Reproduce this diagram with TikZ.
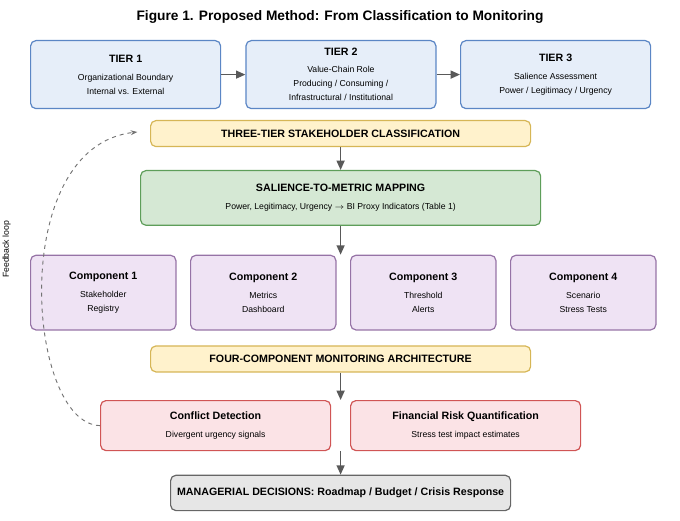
\documentclass[tikz,border=0pt]{standalone}
\usepackage{fontspec}
\setmainfont{Liberation Sans}
\usetikzlibrary{arrows.meta}
\definecolor{bF}{HTML}{E6EEF9}\definecolor{bS}{HTML}{5B86C5}
\definecolor{yF}{HTML}{FFF2CC}\definecolor{yS}{HTML}{D6B656}
\definecolor{gF}{HTML}{D5E8D4}\definecolor{gS}{HTML}{5E9E5A}
\definecolor{pF}{HTML}{EFE3F4}\definecolor{pS}{HTML}{9673A6}
\definecolor{rF}{HTML}{FBE3E6}\definecolor{rS}{HTML}{D05555}
\definecolor{kF}{HTML}{E6E6E6}\definecolor{kS}{HTML}{666666}
\newcommand\Tt[1]{{\fontsize{8}{10}\selectfont\bfseries #1}}
\begin{document}
\begin{tikzpicture}[x=1pt,y=-1pt,
 box/.style={draw, rounded corners=4pt, line width=0.9pt, align=center, inner sep=0pt, anchor=north west, font=\fontsize{6.5}{10.5}\selectfont},
 arr/.style={-{Triangle[length=7pt,width=6pt]}, line width=1pt, draw=black!65}]
\useasboundingbox (0,0) rectangle (510,390);
\node (title) at (255,13) {\fontsize{10.3}{12}\selectfont\bfseries Figure 1. Proposed Method: From Classification to Monitoring};
\node[box,fill=bF,draw=bS,minimum width=142.5pt,minimum height=51pt] (t1) at (22.5,30) {\Tt{TIER 1}\\[3pt]Organizational Boundary\\Internal vs. External};
\node[box,fill=bF,draw=bS,minimum width=142.5pt,minimum height=51pt] (t2) at (184,30) {\Tt{TIER 2}\\[2pt]Value-Chain Role\\Producing / Consuming /\\Infrastructural / Institutional};
\node[box,fill=bF,draw=bS,minimum width=142.5pt,minimum height=51pt] (t3) at (345,30) {\Tt{TIER 3}\\[3pt]Salience Assessment\\Power / Legitimacy / Urgency};
\node[box,fill=yF,draw=yS,minimum width=285pt,minimum height=19.5pt] (c1) at (112.5,90) {\Tt{THREE-TIER STAKEHOLDER CLASSIFICATION}};
\node[box,fill=gF,draw=gS,minimum width=300pt,minimum height=41pt] (sm) at (105,127.5) {\Tt{SALIENCE-TO-METRIC MAPPING}\\[3pt]Power, Legitimacy, Urgency $\rightarrow$ BI Proxy Indicators (Table 1)};
\node[box,fill=pF,draw=pS,minimum width=109pt,minimum height=56pt] (k1) at (22.5,191) {\Tt{Component 1}\\[3pt]Stakeholder\\Registry};
\node[box,fill=pF,draw=pS,minimum width=109pt,minimum height=56pt] (k2) at (142.5,191) {\Tt{Component 2}\\[3pt]Metrics\\Dashboard};
\node[box,fill=pF,draw=pS,minimum width=109pt,minimum height=56pt] (k3) at (262.5,191) {\Tt{Component 3}\\[3pt]Threshold\\Alerts};
\node[box,fill=pF,draw=pS,minimum width=109pt,minimum height=56pt] (k4) at (382.5,191) {\Tt{Component 4}\\[3pt]Scenario\\Stress Tests};
\node[box,fill=yF,draw=yS,minimum width=285pt,minimum height=19.5pt] (c2) at (112.5,259) {\Tt{FOUR-COMPONENT MONITORING ARCHITECTURE}};
\node[box,fill=rF,draw=rS,minimum width=172.5pt,minimum height=37.5pt] (cd) at (75,300) {\Tt{Conflict Detection}\\[3pt]Divergent urgency signals};
\node[box,fill=rF,draw=rS,minimum width=172.5pt,minimum height=37.5pt] (fr) at (262.5,300) {\Tt{Financial Risk Quantification}\\[3pt]Stress test impact estimates};
\node[box,fill=kF,draw=kS,minimum width=255pt,minimum height=26.5pt] (md) at (127.5,356) {\Tt{MANAGERIAL DECISIONS: Roadmap / Budget / Crisis Response}};
\draw[arr] (t1) -- (t2);
\draw[arr] (t2) -- (t3);
\draw[arr] (c1) -- (sm);
\draw[arr] (sm) -- (sm.south |- k1.north);
\draw[arr] (c2) -- (c2.south |- cd.north);
\draw[arr] (c2.south |- cd.south) -- (c2.south |- md.north);
\draw[dashed, line width=0.7pt, draw=black!55, -{Stealth[length=5pt]}] (cd.west) .. controls (20,318) and (5,110) .. (103,99);
\node[rotate=90, font=\fontsize{6.5}{8}\selectfont] (fl) at (5,187) {Feedback loop};
\end{tikzpicture}
\end{document}
